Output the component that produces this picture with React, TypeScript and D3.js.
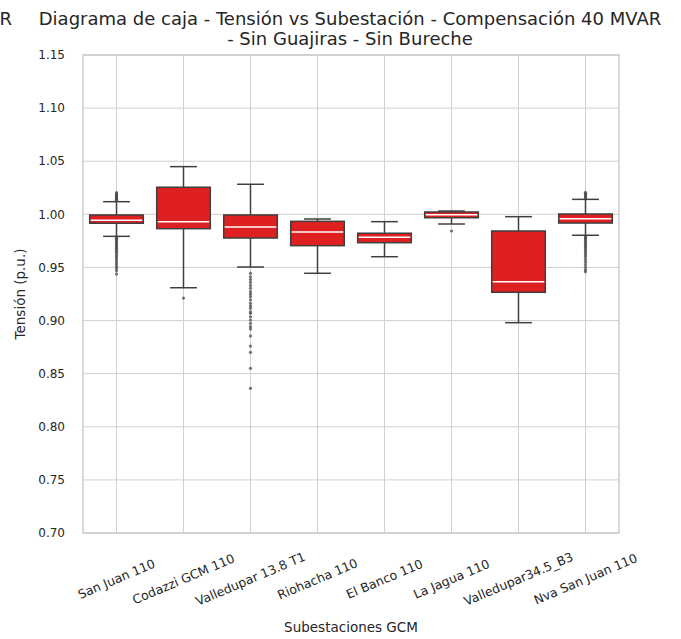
import React, { useEffect, useRef } from 'react';
import * as d3 from 'd3';

// Subestaciones (categorías del eje x)
const substations = [
  'San Juan 110',
  'Codazzi GCM 110',
  'Valledupar 13.8 T1',
  'Riohacha 110',
  'El Banco 110',
  'La Jagua 110',
  'Valledupar34.5_B3',
  'Nva San Juan 110',
];

// Estadísticos de caja
const whiskerLow = [0.9793, 0.9309, 0.9504, 0.9445, 0.9601, 0.9909, 0.898, 0.9803];
const q1 = [0.9916, 0.9865, 0.9777, 0.9705, 0.9733, 0.9968, 0.9266, 0.9918];
const medians = [0.9944, 0.9931, 0.988, 0.9834, 0.9784, 0.9997, 0.9366, 0.9959];
const q3 = [0.9994, 1.0255, 0.9994, 0.9934, 0.9822, 1.0022, 0.9843, 1.0003];
const whiskerHigh = [1.0119, 1.0449, 1.0283, 0.9956, 0.9931, 1.0031, 0.9978, 1.0141];

// Valores atípicos por subestación
const fliers: number[][] = [
  [1.0132, 1.0142, 1.0152, 1.0163, 1.0172, 1.0181, 1.0192, 1.0204,
    0.9784, 0.9772, 0.9761, 0.9748, 0.9736, 0.9722, 0.9708, 0.9695, 0.9681,
    0.9668, 0.9652, 0.9638, 0.9621, 0.9604, 0.9588, 0.9569, 0.9551, 0.9532,
    0.9512, 0.9491, 0.9468, 0.9438],
  [0.9212],
  [0.9445, 0.9412, 0.9386, 0.936, 0.9331, 0.9304, 0.9272, 0.9248, 0.9225,
    0.9194, 0.9163, 0.9138, 0.9115, 0.9083, 0.9068, 0.9036, 0.9005, 0.8974,
    0.8942, 0.892, 0.8855, 0.876, 0.8701, 0.855, 0.8362],
  [],
  [],
  [0.9843],
  [],
  [1.0152, 1.0163, 1.0174, 1.0185, 1.0196, 1.0208,
    0.9792, 0.978, 0.9768, 0.9755, 0.9741, 0.9727, 0.9712, 0.9698, 0.9682,
    0.9665, 0.9648, 0.963, 0.9611, 0.9591, 0.957, 0.9548, 0.9525, 0.9501,
    0.9478, 0.946],
];

const yTicks = [0.7, 0.75, 0.8, 0.85, 0.9, 0.95, 1.0, 1.05, 1.1, 1.15];

const titleLine1 = 'Diagrama de caja - Tensión vs Subestación - Compensación 40 MVAR';
const titleLine2 = '- Sin Guajiras - Sin Bureche';

const App = () => {
  const chartRef = useRef<SVGSVGElement | null>(null);

  useEffect(() => {
    const root = d3.select(chartRef.current);
    root.selectAll('*').remove();

    const width = 681;
    const height = 639;
    const margin = { top: 55, right: 62, bottom: 106, left: 83 };
    const innerW = width - margin.left - margin.right;
    const innerH = height - margin.top - margin.bottom;
    const font = '"DejaVu Sans", sans-serif';
    const textColor = '#262626';
    const gridColor = '#d0d0d0';
    const boxFill = '#df2020';
    const lineColor = '#3f3f3f';

    root.append('rect').attr('width', width).attr('height', height).attr('fill', '#fff');

    const svg = root.append('g').attr('transform', `translate(${margin.left},${margin.top})`);

    const x = d3.scaleBand().domain(substations).range([0, innerW]).paddingInner(0).paddingOuter(0);
    const y = d3.scaleLinear().domain([0.7, 1.15]).range([innerH, 0]);
    const boxW = x.bandwidth() * 0.8;
    const capW = boxW / 2;

    // Grid
    svg
      .selectAll('.hgrid')
      .data(yTicks)
      .enter()
      .append('line')
      .attr('x1', 0)
      .attr('x2', innerW)
      .attr('y1', (d) => y(d))
      .attr('y2', (d) => y(d))
      .attr('stroke', gridColor)
      .attr('stroke-width', 1);

    svg
      .selectAll('.vgrid')
      .data(substations)
      .enter()
      .append('line')
      .attr('x1', (d) => x(d)! + x.bandwidth() / 2)
      .attr('x2', (d) => x(d)! + x.bandwidth() / 2)
      .attr('y1', 0)
      .attr('y2', innerH)
      .attr('stroke', gridColor)
      .attr('stroke-width', 1);

    // Y axis labels
    svg
      .selectAll('.ytick')
      .data(yTicks)
      .enter()
      .append('text')
      .attr('x', -18)
      .attr('y', (d) => y(d))
      .attr('dy', '0.35em')
      .attr('text-anchor', 'end')
      .style('font-family', font)
      .style('font-size', '12px')
      .style('fill', textColor)
      .text((d) => d3.format('.2f')(d));

    // X axis labels (rotadas)
    svg
      .selectAll('.xtick')
      .data(substations)
      .enter()
      .append('text')
      .attr(
        'transform',
        (d) => `translate(${x(d)! + x.bandwidth() / 2},${innerH + 46}) rotate(-23)`
      )
      .attr('text-anchor', 'middle')
      .attr('dy', '0.35em')
      .style('font-family', font)
      .style('font-size', '12.5px')
      .style('fill', textColor)
      .text((d) => d);

    // Boxes
    substations.forEach((name, i) => {
      const cx = x(name)! + x.bandwidth() / 2;
      const g = svg.append('g');

      g.append('line')
        .attr('x1', cx)
        .attr('x2', cx)
        .attr('y1', y(q3[i]))
        .attr('y2', y(whiskerHigh[i]))
        .attr('stroke', lineColor)
        .attr('stroke-width', 1.5);
      g.append('line')
        .attr('x1', cx)
        .attr('x2', cx)
        .attr('y1', y(q1[i]))
        .attr('y2', y(whiskerLow[i]))
        .attr('stroke', lineColor)
        .attr('stroke-width', 1.5);
      [whiskerHigh[i], whiskerLow[i]].forEach((v) => {
        g.append('line')
          .attr('x1', cx - capW / 2)
          .attr('x2', cx + capW / 2)
          .attr('y1', y(v))
          .attr('y2', y(v))
          .attr('stroke', lineColor)
          .attr('stroke-width', 1.5);
      });

      g.append('rect')
        .attr('x', cx - boxW / 2)
        .attr('y', y(q3[i]))
        .attr('width', boxW)
        .attr('height', y(q1[i]) - y(q3[i]))
        .attr('fill', boxFill)
        .attr('stroke', lineColor)
        .attr('stroke-width', 1.5);

      g.append('line')
        .attr('x1', cx - boxW / 2 + 1)
        .attr('x2', cx + boxW / 2 - 1)
        .attr('y1', y(medians[i]))
        .attr('y2', y(medians[i]))
        .attr('stroke', '#ffffff')
        .attr('stroke-width', 1.5);

      g.selectAll('.flier')
        .data(fliers[i])
        .enter()
        .append('circle')
        .attr('cx', cx)
        .attr('cy', (d) => y(d))
        .attr('r', 1.6)
        .attr('fill', lineColor)
        .attr('fill-opacity', 0.7);
    });

    // Spines
    svg
      .append('rect')
      .attr('x', 0)
      .attr('y', 0)
      .attr('width', innerW)
      .attr('height', innerH)
      .attr('fill', 'none')
      .attr('stroke', '#cccccc')
      .attr('stroke-width', 1.5);

    // Axis titles
    root
      .append('text')
      .attr('x', margin.left + innerW / 2)
      .attr('y', 632)
      .attr('text-anchor', 'middle')
      .style('font-family', font)
      .style('font-size', '13.5px')
      .style('fill', textColor)
      .text('Subestaciones GCM');

    root
      .append('text')
      .attr('transform', `translate(25,${margin.top + innerH / 2}) rotate(-90)`)
      .attr('text-anchor', 'middle')
      .style('font-family', font)
      .style('font-size', '13.5px')
      .style('fill', textColor)
      .text('Tensión (p.u.)');

    // Title (la primera línea aparece recortada a la izquierda en el original)
    const titleX = 350;
    root
      .append('text')
      .attr('x', 12)
      .attr('y', 25)
      .attr('text-anchor', 'end')
      .style('font-family', font)
      .style('font-size', '18px')
      .style('fill', textColor)
      .text('AR');

    root
      .append('text')
      .attr('x', titleX)
      .attr('y', 25)
      .attr('text-anchor', 'middle')
      .style('font-family', font)
      .style('font-size', '18px')
      .style('fill', textColor)
      .text(titleLine1);

    root
      .append('text')
      .attr('x', titleX)
      .attr('y', 45)
      .attr('text-anchor', 'middle')
      .style('font-family', font)
      .style('font-size', '18px')
      .style('fill', textColor)
      .text(titleLine2);
  }, []);

  return (
    <svg
      ref={chartRef}
      width={681}
      height={639}
      style={{ position: 'absolute', left: 0, top: 0, display: 'block' }}
    />
  );
};

export default App;
